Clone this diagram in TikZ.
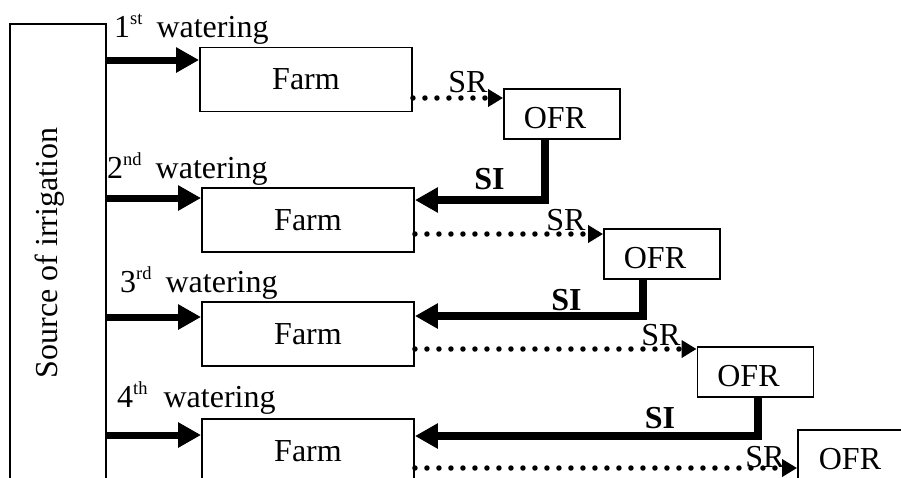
\documentclass[tikz,border=0pt]{standalone}
\usepackage{fontspec}
\setmainfont{Liberation Serif}
\usetikzlibrary{arrows.meta}
\newcommand\mainsz{\fontsize{32}{38}\selectfont}
\newcommand\ordsup[1]{\raisebox{13pt}{\fontsize{18.5}{18.5}\selectfont #1}}
\begin{document}
\begin{tikzpicture}[x=1pt,y=-1pt,
  box/.style={draw, line width=1.9pt, inner sep=0pt, font=\mainsz},
  farmbox/.style={box, minimum width=212pt, minimum height=64pt},
  ofrbox/.style={box, minimum width=116pt, minimum height=50pt, text height=28pt, text depth=0pt},
  feed/.style={line width=7pt, -{Triangle[length=23pt,width=24pt]}},
  si/.style={line width=7.5pt, -{Triangle[length=23pt,width=24pt]}},
  sr/.style={line width=5.5pt, line cap=round, dash pattern=on 0pt off 12pt, -{Triangle[length=15pt,width=17pt]}},
  lbl/.style={font=\mainsz, inner sep=0pt},
  silbl/.style={font=\mainsz\bfseries, inner sep=0pt}]
\useasboundingbox (0,0) rectangle (901,477);
\fill[white] (0,0) rectangle (901,477);
\clip (0,0) rectangle (901,477);
% source
\node[box, minimum width=96pt, minimum height=480pt] (src) at (58,264) {};
\node[lbl, rotate=90] (srctext) at (50,253) {Source of irrigation};
% farms
\node[farmbox] (farm1) at (306,79.5) {Farm};
\node[farmbox] (farm2) at (308,220) {Farm};
\node[farmbox] (farm3) at (308,334) {Farm};
\node[farmbox] (farm4) at (308,451) {Farm};
% OFR
\node[ofrbox] (ofr1) at (562,114) {OFR\hspace*{14pt}};
\node[ofrbox] (ofr2) at (662,254) {OFR\hspace*{14pt}};
\node[ofrbox] (ofr3) at (755.5,372) {OFR\hspace*{14pt}};
\node[ofrbox] (ofr4) at (856,455) {OFR\hspace*{12pt}};
% watering labels
\node[lbl, anchor=base west] (w1) at (114,37) {1\ordsup{st}\hspace{14pt}watering};
\node[lbl, anchor=base west] (w2) at (107,178) {2\ordsup{nd}\hspace{14pt}watering};
\node[lbl, anchor=base west] (w3) at (120,292) {3\ordsup{rd}\hspace{14pt}watering};
\node[lbl, anchor=base west] (w4) at (117,407) {4\ordsup{th}\hspace{16pt}watering};
% feed arrows
\draw[feed] (src.east |- 0,60) -- (farm1.west |- 0,60);
\draw[feed] (src.east |- 0,198) -- (farm2.west |- 0,198);
\draw[feed] (src.east |- 0,317) -- (farm3.west |- 0,317);
\draw[feed] (src.east |- 0,435) -- (farm4.west |- 0,435);
% surface runoff
\draw[sr] (farm1.east |- 0,98) -- (ofr1.west |- 0,98);
\draw[sr] (farm2.east |- 0,234) -- (ofr2.west |- 0,234);
\draw[sr] (farm3.east |- 0,349) -- (ofr3.west |- 0,349);
\draw[sr] (farm4.east |- 0,468) -- (ofr4.west |- 0,468);
% supplementary irrigation
\draw[si] (ofr1.south -| 545,0) |- (farm2.east |- 0,200);
\draw[si] (ofr2.south -| 643,0) |- (farm3.east |- 0,316);
\draw[si] (ofr3.south -| 758,0) |- (farm4.east |- 0,436);
% labels
\node[lbl] (sr1) at (468,82.5) {SR};
\node[lbl] (sr2) at (566,220) {SR};
\node[lbl] (sr3) at (661,335) {SR};
\node[lbl] (sr4) at (765,457) {SR};
\node[silbl] (si1) at (489.5,179.5) {SI};
\node[silbl] (si2) at (566.5,300) {SI};
\node[silbl] (si3) at (660,418) {SI};
\end{tikzpicture}
\end{document}
